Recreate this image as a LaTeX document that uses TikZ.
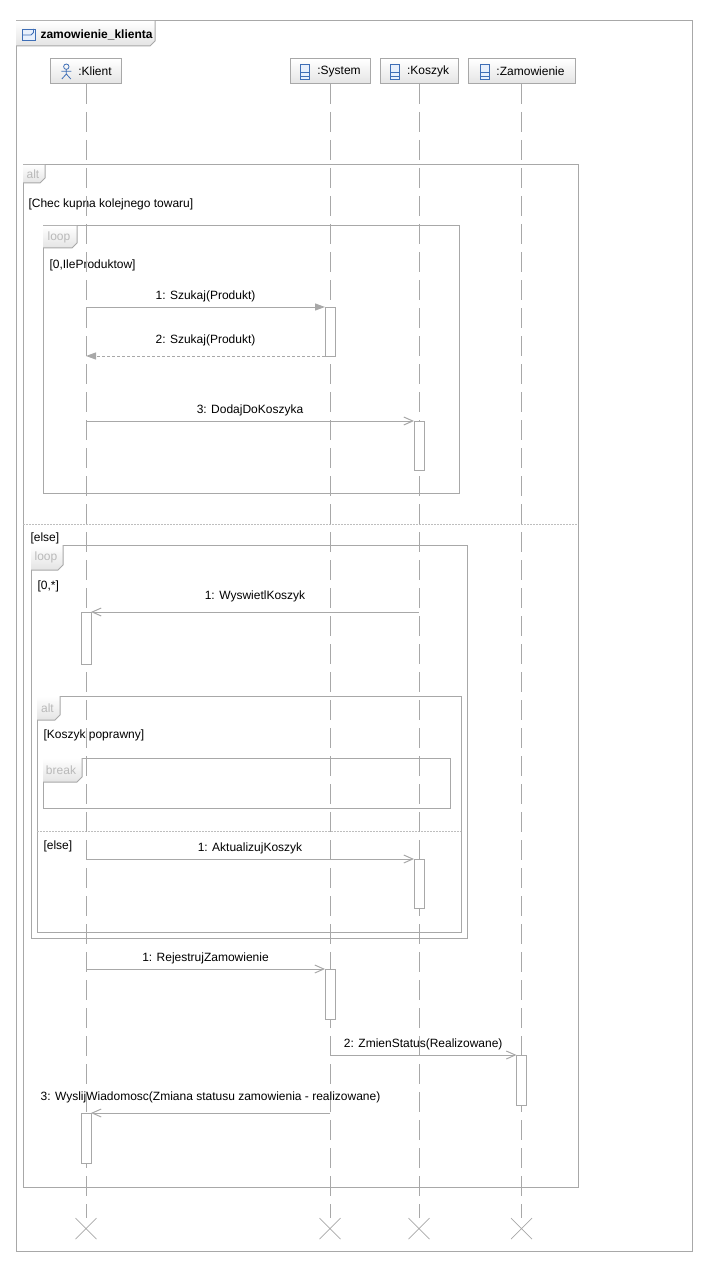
\documentclass[tikz,border=0pt]{standalone}
\usepackage{fontspec}
\setmainfont{Liberation Sans}
\usetikzlibrary{arrows.meta,positioning,shapes.misc,calc}
\definecolor{umlline}{RGB}{168,168,168}
\definecolor{umlsep}{RGB}{190,190,190}
\definecolor{umltab}{RGB}{185,185,185}
\definecolor{umlhead}{RGB}{228,228,228}
\definecolor{umlblue}{RGB}{62,110,182}
\definecolor{umlicon}{RGB}{232,240,252}
\tikzset{
    %Define standard arrow tips
    msg/.style={
      draw=umlline,
      -{Straight Barb[length=9pt,width=8pt]}},
    syncmsg/.style={
      draw=umlline,
      -{Triangle[length=10pt,width=7pt]}},
    retmsg/.style={
      syncmsg,
      dash pattern=on 3pt off 2pt},
    lifehead/.style={
      rectangle,
      draw=umlline,
      top color=white, bottom color=umlhead,
      minimum height=25pt,
      inner sep=0pt, outer sep=0pt},
    lifeline/.style={
      draw=umlline,
      dash pattern=on 20pt off 8pt},
    actbox/.style={
      rectangle,
      draw=umlline, fill=white,
      minimum width=10pt, minimum height=49pt,
      inner sep=0pt, outer sep=0pt,
      anchor=north},
    endx/.style={
      cross out,
      draw=umlline, line width=0.7pt,
      minimum size=21pt,
      inner sep=0pt, outer sep=0pt},
    fragframe/.style={
      draw=umlline},
    fragsep/.style={
      draw=umlsep,
      dash pattern=on 2pt off 1pt},
    fragtabfill/.style={
      top color=white, bottom color=umlhead},
    tablabel/.style={
      text=umltab,
      inner sep=0pt},
    guard/.style={
      anchor=west,
      inner sep=0pt,
      text height=9pt, text depth=3pt},
    msglabel/.style={
      inner sep=0pt,
      text height=9pt, text depth=3pt},
    classicon/.pic={
      \draw [umlblue, fill=umlicon, line width=0.8pt] (-4.5,-7.5) rectangle (4.5,7.5);
      \draw [umlblue, line width=0.8pt] (-4.5,1) -- (4.5,1) (-4.5,4.5) -- (4.5,4.5);},
    actoricon/.pic={
      \draw [umlblue, line width=0.8pt] (0,-4.8) circle [radius=2.7]
        (0,-2.1) -- (0,2.5)
        (-5,-0.3) -- (5,-0.3)
        (-4.5,7.5) -- (0,2.5) -- (4.5,7.5);},
    frameicon/.pic={
      \draw [umlblue, fill=umlicon, line width=0.8pt] (-6.5,-5.5) rectangle (6.5,5.5);
      \draw [umlblue, line width=0.8pt] (-6.5,0.5) -- (2,0.5) -- (4.5,-2) -- (4.5,-5.5);},
}
% tab of a combined fragment: x, y, width, height
\newcommand{\fragtab}[4]{%
  \path [fragtabfill] (#1,#2) -- ++(#3,0) -- ++(0,#4-5) -- ++(-5,5) -- ++(5-#3,0) -- cycle;
  \draw [fragframe] (#1,#2) ++(#3,0) -- ++(0,#4-5) -- ++(-5,5) -- ++(5-#3,0);}

\begin{document}
\begin{tikzpicture}[x=1pt, y=-1pt, line width=1pt, node distance=10pt,
    font=\fontsize{12pt}{14pt}\selectfont]
    \useasboundingbox (0,0) rectangle (712,1273);
    % interaction frame
    \draw [fragframe] (16,21) rectangle (692,1251);
    \fragtab{16}{21}{139}{25}
    \pic at (29,34.5) {frameicon};
    \node (title) [anchor=west, inner sep=0pt, font=\fontsize{12pt}{14pt}\selectfont\bfseries] at (40,34.5)
          {zamowienie\_klienta};

    % combined fragments
    \draw [fragframe] (23,165) rectangle (578,1187);
    \fragtab{23}{165}{22}{18}
    \node (talt1) [tablabel] at (33,174) {alt};
    \node (galt1) [guard] at (28,205)
          {[Chec kupna kolejnego towaru]};
    \draw [fragframe] (43,226) rectangle (459,493);
    \fragtab{43}{226}{34}{22}
    \node (tloop1) [tablabel] at (59,237) {loop};
    \node (gloop1) [guard] at (49,265)
          {[0,IleProduktow]};
    \draw [fragsep] (23,524) -- (578,524);
    \node (gelse1) [guard] at (30,538)
          {[else]};
    \draw [fragframe] (31,545) rectangle (467,938);
    \fragtab{31}{545}{32}{25}
    \node (tloop2) [tablabel] at (46,557.5) {loop};
    \node (gloop2) [guard] at (37,586)
          {[0,*]};
    \draw [fragframe] (37,696) rectangle (461,932);
    \fragtab{37}{696}{23}{24}
    \node (talt2) [tablabel] at (47.5,708) {alt};
    \node (galt2) [guard] at (43,735)
          {[Koszyk poprawny]};
    \draw [fragframe] (43,758) rectangle (450,808);
    \fragtab{43}{758}{39}{24}
    \node (tbreak) [tablabel] at (61,770) {break};
    \draw [fragsep] (37,831) -- (461,831);
    \node (gelse2) [guard] at (43,846)
          {[else]};

    % lifelines
    \node (hkli) [lifehead, minimum width=71pt] at (86,71.5)
          {\hspace*{18pt}:Klient};
    \node (hsys) [lifehead, minimum width=80pt] at (330,71.5)
          {\hspace*{18pt}:System};
    \node (hkos) [lifehead, minimum width=78pt] [right=of hsys]
          {\hspace*{18pt}:Koszyk};
    \node (hzam) [lifehead, minimum width=107pt] [right=of hkos]
          {\hspace*{18pt}:Zamowienie};
    \pic at ($(hkli.text |- hkli.center)+(6,0)$) {actoricon};
    \pic at ($(hsys.text |- hsys.center)+(6,0)$) {classicon};
    \pic at ($(hkos.text |- hkos.center)+(6,0)$) {classicon};
    \pic at ($(hzam.text |- hzam.center)+(6,0)$) {classicon};
    \node (xkli) [endx] at (86,1228.5) {};
    \node (xsys) [endx] at (hsys |- xkli) {};
    \node (xkos) [endx] at (hkos |- xkli) {};
    \node (xzam) [endx] at (hzam |- xkli) {};
    \draw [lifeline] (hkli) -- (xkli);
    \draw [lifeline] (hsys) -- (xsys);
    \draw [lifeline] (hkos) -- (xkos);
    \draw [lifeline] (hzam) -- (xzam);

    % executions
    \node (act1) [actbox] at (330,307) {};
    \node (act2) [actbox] at (419,421) {};
    \node (act3) [actbox, minimum height=52pt] at (86,612) {};
    \node (act4) [actbox] at (419,859) {};
    \node (act5) [actbox, minimum height=50pt] at (330,969) {};
    \node (act6) [actbox, minimum height=50pt] at (521.5,1055) {};
    \node (act7) [actbox, minimum height=50pt] at (86,1113) {};

    % messages
    \draw [syncmsg] (hkli |- act1.north west) -- (act1.north west)
          node [msglabel, midway, above=4pt] {1: Szukaj(Produkt)};
    \draw [retmsg] (act1.south west) -- (hkli |- act1.south west)
          node [msglabel, midway, above=9.5pt] {2: Szukaj(Produkt)};
    \draw [msg] (hkli |- act2.north west) -- (act2.north west)
          node [msglabel, midway, above=4pt] {3: DodajDoKoszyka};
    \draw [msg] (hkos |- act3.north east) -- (act3.north east)
          node [msglabel, midway, above=9.5pt] {1: WyswietlKoszyk};
    \draw [msg] (hkli |- act4.north west) -- (act4.north west)
          node [msglabel, midway, above=4pt] {1: AktualizujKoszyk};
    \draw [msg] (hkli |- act5.north west) -- (act5.north west)
          node [msglabel, midway, above=4pt] {1: RejestrujZamowienie};
    \draw [msg] (hsys |- act6.north west) -- (act6.north west)
          node [msglabel, midway, above=4pt] {2: ZmienStatus(Realizowane)};
    \draw [msg] (hsys |- act7.north east) -- (act7.north east)
          node [msglabel, midway, above=9.5pt] {3: WyslijWiadomosc(Zmiana statusu zamowienia - realizowane)};
\end{tikzpicture}
\end{document}
